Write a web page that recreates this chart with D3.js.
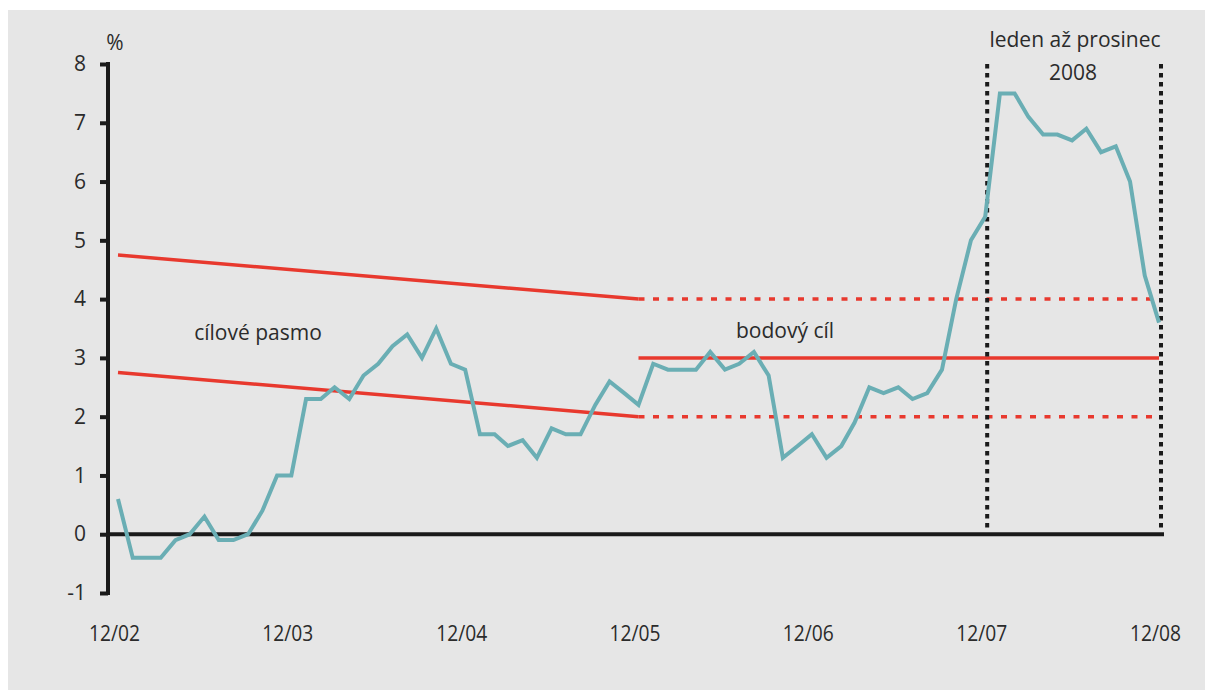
<!DOCTYPE html>
<html>
<head>
<meta charset="utf-8">
<script src="https://cdn.jsdelivr.net/npm/d3@7"></script>
<style>
  body { margin: 0; background: #fff; }
  text { font-family: "Open Sans", "DejaVu Sans", sans-serif; fill: #2b2b2b; }
</style>
</head>
<body>
<div id="chart"></div>
<script>
var svgWidth = 1205;
var svgHeight = 690;

// monthly inflation, 12/2002 .. 12/2008
var startMonth = new Date(2002, 11, 1);
var inflation = [
  0.6,
  -0.4, -0.4, -0.4, -0.1, 0.0, 0.3, -0.1, -0.1, 0.0, 0.4, 1.0, 1.0,
  2.3, 2.3, 2.5, 2.3, 2.7, 2.9, 3.2, 3.4, 3.0, 3.5, 2.9, 2.8,
  1.7, 1.7, 1.5, 1.6, 1.3, 1.8, 1.7, 1.7, 2.2, 2.6, 2.4, 2.2,
  2.9, 2.8, 2.8, 2.8, 3.1, 2.8, 2.9, 3.1, 2.7, 1.3, 1.5, 1.7,
  1.3, 1.5, 1.9, 2.5, 2.4, 2.5, 2.3, 2.4, 2.8, 4.0, 5.0, 5.4,
  7.5, 7.5, 7.1, 6.8, 6.8, 6.7, 6.9, 6.5, 6.6, 6.0, 4.4, 3.6
];

// target band (12/02 -> 12/05) and point target with tolerance band (12/05 -> 12/08)
var bandUpper = [[new Date(2002, 11, 1), 4.75], [new Date(2005, 11, 1), 4.0]];
var bandLower = [[new Date(2002, 11, 1), 2.75], [new Date(2005, 11, 1), 2.0]];
var pointTarget = [[new Date(2005, 11, 1), 3], [new Date(2008, 11, 1), 3]];
var tolUpper = [[new Date(2005, 11, 1), 4], [new Date(2008, 11, 1), 4]];
var tolLower = [[new Date(2005, 11, 1), 2], [new Date(2008, 11, 1), 2]];

var yTicks = [-1, 0, 1, 2, 3, 4, 5, 6, 7, 8];
var xTickDates = [2002, 2003, 2004, 2005, 2006, 2007, 2008].map(y => new Date(y, 11, 1));
var markers = [new Date(2007, 11, 1), new Date(2008, 11, 1)];

var svg = d3.select("#chart")
    .append("svg")
    .attr("width", svgWidth)
    .attr("height", svgHeight);

// grey panel
svg.append("rect")
    .attr("x", 8).attr("y", 10)
    .attr("width", svgWidth - 8).attr("height", svgHeight - 10)
    .attr("fill", "#e6e6e6");

var x = d3.scaleTime()
    .domain([new Date(2002, 11, 1), new Date(2008, 11, 1)])
    .range([118, 1159]);

var y = d3.scaleLinear()
    .domain([-1, 8])
    .range([593, 64]);

var line = d3.line()
    .x(d => x(d[0]))
    .y(d => y(d[1]));

// y axis
var leftAxis = d3.axisLeft(y)
    .tickValues(yTicks)
    .tickSize(8)
    .tickPadding(14)
    .tickFormat(d => String(d));

var yAxisG = svg.append("g")
    .attr("transform", "translate(108,0)")
    .call(leftAxis);
yAxisG.select(".domain").attr("stroke", "#1a1a1a").attr("stroke-width", 4)
    .attr("d", `M0,${y(8) - 2}V${y(-1) + 2}`);
yAxisG.selectAll(".tick line").attr("stroke", "#1a1a1a").attr("stroke-width", 4);
yAxisG.selectAll(".tick text").style("font-size", "21px").attr("fill", "#2b2b2b");

svg.append("text")
    .attr("x", 115).attr("y", 50)
    .attr("text-anchor", "middle")
    .style("font-size", "21px")
    .text("%");

// zero line
svg.append("line")
    .attr("x1", 106).attr("x2", 1164)
    .attr("y1", y(0)).attr("y2", y(0))
    .attr("stroke", "#1a1a1a").attr("stroke-width", 4);

// x labels
var bottomAxis = d3.axisBottom(x)
    .tickValues(xTickDates)
    .tickSize(0)
    .tickPadding(0)
    .tickFormat(d3.timeFormat("%m/%y"));

var xAxisG = svg.append("g")
    .attr("transform", "translate(-4,625)")
    .call(bottomAxis);
xAxisG.select(".domain").remove();
xAxisG.selectAll(".tick text")
    .style("font-size", "22px")
    .attr("fill", "#2b2b2b")
    .attr("textLength", 51)
    .attr("lengthAdjust", "spacingAndGlyphs");

// red target lines
var red = "#e8392e";
[bandUpper, bandLower, pointTarget].forEach(function(seg) {
    svg.append("path").datum(seg).attr("d", line)
        .attr("fill", "none").attr("stroke", red).attr("stroke-width", 3.5);
});
[tolUpper, tolLower].forEach(function(seg) {
    svg.append("path").datum(seg).attr("d", line)
        .attr("fill", "none").attr("stroke", red).attr("stroke-width", 3.5)
        .attr("stroke-dasharray", "6,8.5");
});

// vertical markers for 2008
markers.forEach(function(d) {
    svg.append("line")
        .attr("x1", x(d) + 2).attr("x2", x(d) + 2)
        .attr("y1", 64).attr("y2", 530)
        .attr("stroke", "#1a1a1a").attr("stroke-width", 4)
        .attr("stroke-dasharray", "4.5,4.5");
});

// inflation line
var series = inflation.map((v, i) => [d3.timeMonth.offset(startMonth, i), v]);
svg.append("path").datum(series).attr("d", line)
    .attr("fill", "none").attr("stroke", "#6aaeb4").attr("stroke-width", 4)
    .attr("stroke-linejoin", "miter");

// annotations
svg.append("text").attr("x", 258).attr("y", 340).attr("text-anchor", "middle")
    .style("font-size", "21px").text("cílové pasmo");
svg.append("text").attr("x", 785).attr("y", 338).attr("text-anchor", "middle")
    .style("font-size", "21px").text("bodový cíl");
svg.append("text").attr("x", 1075).attr("y", 47).attr("text-anchor", "middle")
    .style("font-size", "21px").text("leden až prosinec");
svg.append("text").attr("x", 1073).attr("y", 80).attr("text-anchor", "middle")
    .style("font-size", "21px").text("2008");
</script>
</body>
</html>
